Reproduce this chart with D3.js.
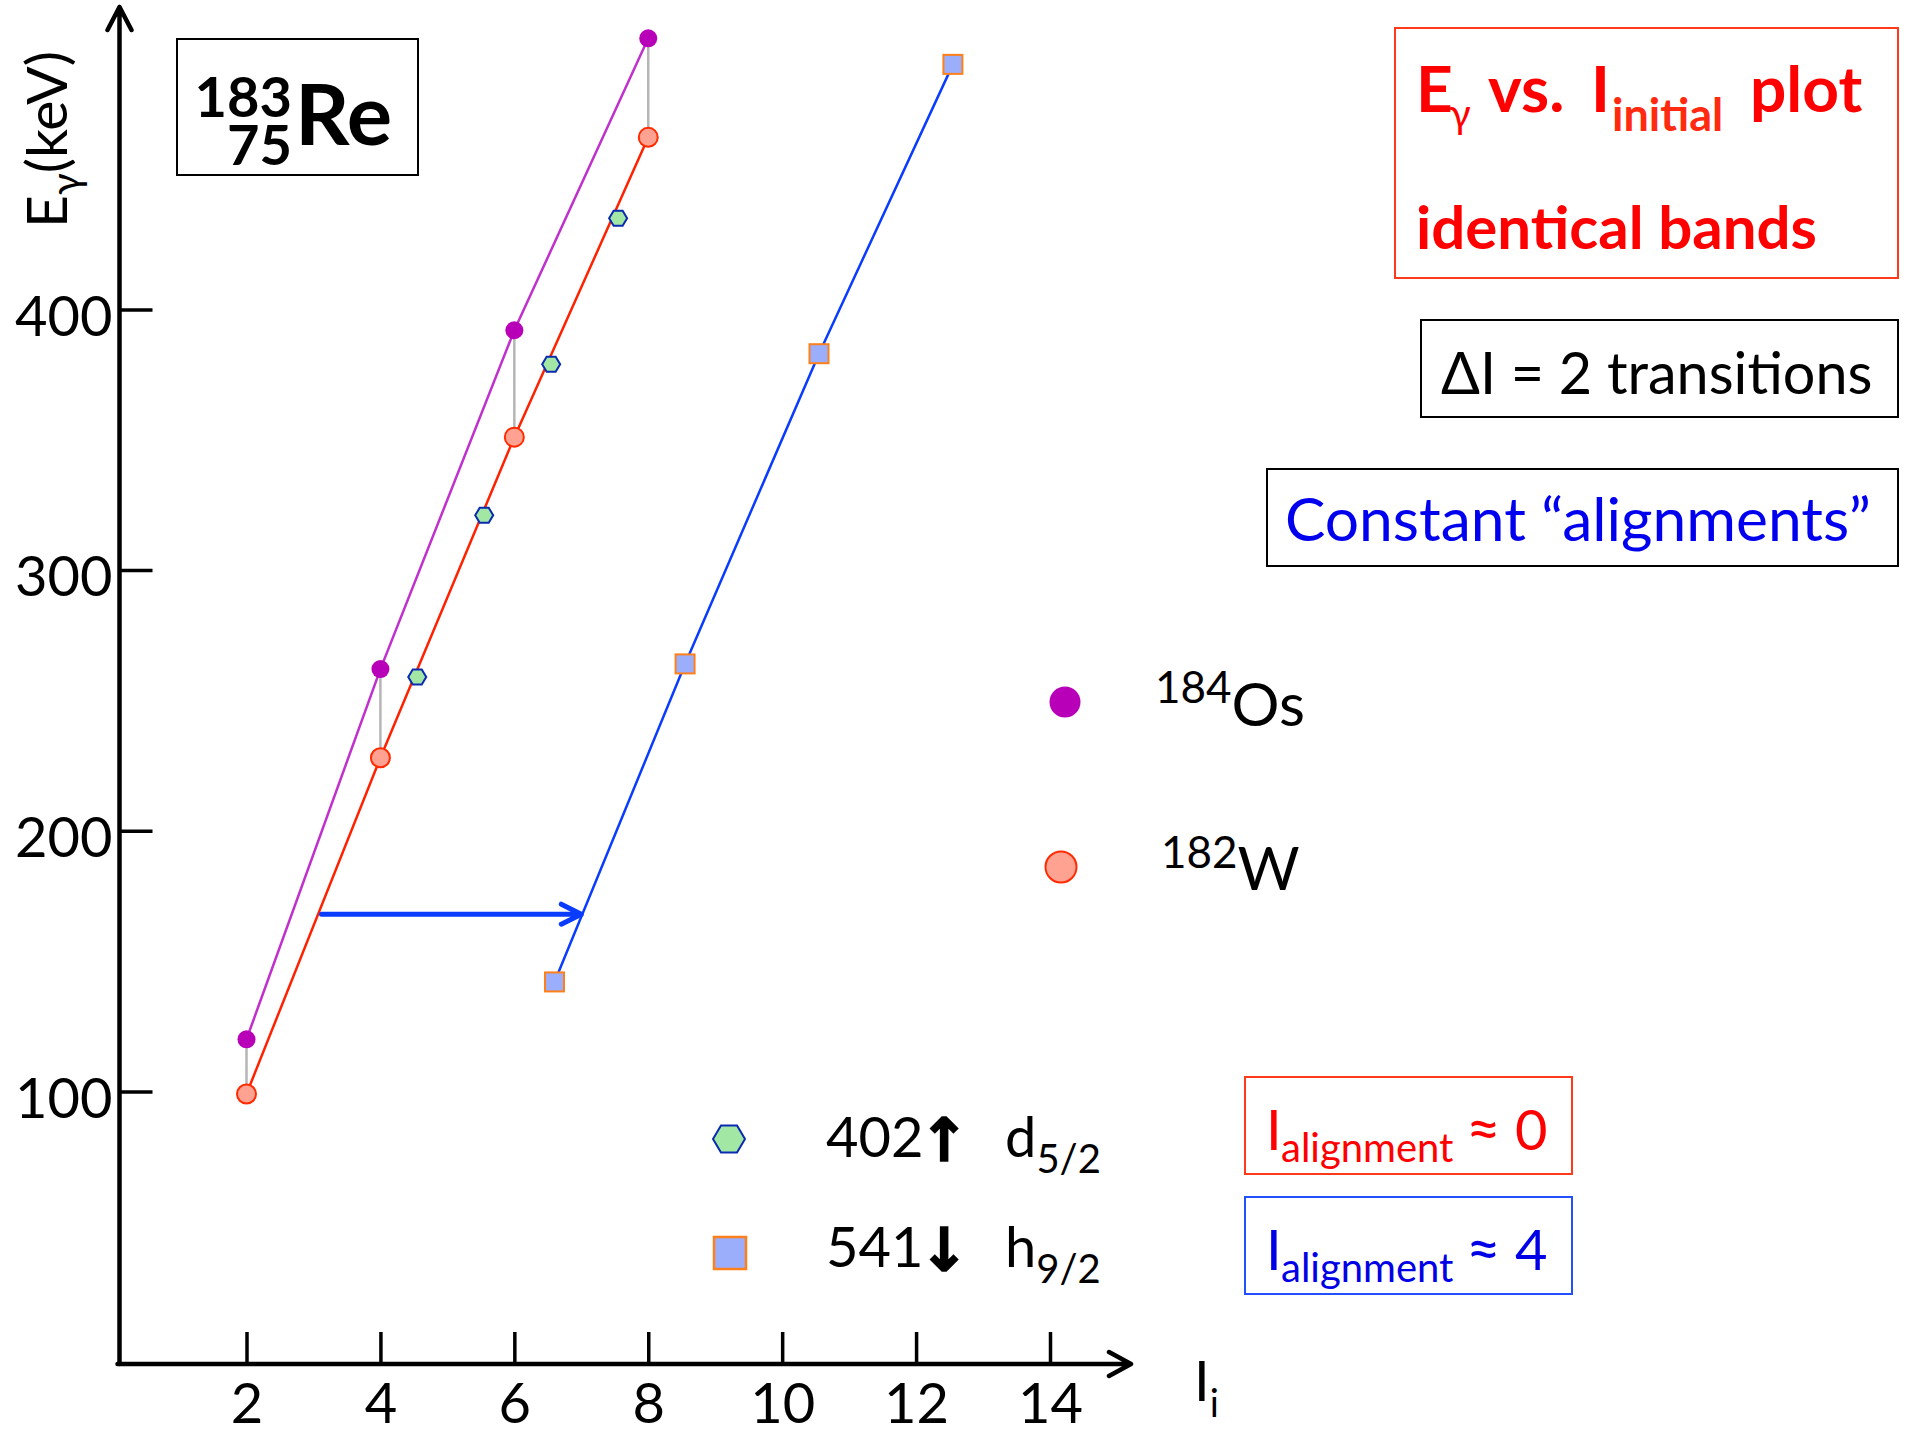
<!DOCTYPE html>
<html>
<head>
<meta charset="utf-8">
<script src="https://cdn.jsdelivr.net/npm/d3@7"></script>
<style>
  body { margin: 0; background: #fff; }
  text { font-family: Lato, "Open Sans", "DejaVu Sans", sans-serif; }
</style>
</head>
<body>
<svg id="chart"></svg>
<script>
var width = 1910;
var height = 1434;

// spins of the even-even neighbours
var spins = [2, 4, 6, 8];
var osEnergy = [120, 262, 392, 504];   // 184Os
var wEnergy = [99, 228, 351, 466];     // 182W

// 183Re bands
var d52Spin = [4.55, 5.55, 6.55, 7.55];
var d52Energy = [259, 321, 379, 435];
var h92Spin = [6.6, 8.55, 10.55, 12.55];
var h92Energy = [142, 264, 383, 494];

// alignment shift arrow (from spin, to spin, at energy)
var shiftSpin = [3.12, 7.0];
var shiftEnergy = 168;

var xTicks = [2, 4, 6, 8, 10, 12, 14];
var yTicks = [100, 200, 300, 400];

var svg = d3.select("#chart").attr("width", width).attr("height", height);

var x = d3.scaleLinear().domain([2, 14]).range([246.5, 1050]);
var y = d3.scaleLinear().domain([100, 400]).range([1091.4, 309.4]);

var axisX = 119.5, axisY = 1364;

// axes
var yAxis = d3.axisLeft(y).tickValues(yTicks).tickSizeInner(-33).tickSizeOuter(0).tickPadding(7);
var gy = svg.append("g").attr("transform", "translate(" + axisX + ",0)").call(yAxis);
gy.select(".domain").remove();
gy.selectAll(".tick line").attr("stroke", "#000").attr("stroke-width", 3.5);
gy.selectAll(".tick text").attr("font-size", 56).attr("fill", "#000").attr("dy", "0.46em")
    .style("font-family", "Lato, sans-serif");

var xAxis = d3.axisBottom(x).tickValues(xTicks).tickSizeInner(-32).tickSizeOuter(0).tickPadding(19);
var gx = svg.append("g").attr("transform", "translate(0," + axisY + ")").call(xAxis);
gx.select(".domain").remove();
gx.selectAll(".tick line").attr("stroke", "#000").attr("stroke-width", 3.5);
gx.selectAll(".tick text").attr("font-size", 56).attr("fill", "#000")
    .style("font-family", "Lato, sans-serif");

// axis lines with open arrow heads
svg.append("path")
    .attr("d", "M" + axisX + "," + axisY + "V7M" + (axisX - 12) + ",30L" + axisX + ",7L" + (axisX + 12) + ",30")
    .attr("fill", "none").attr("stroke", "#000").attr("stroke-width", 4.5)
    .attr("stroke-linecap", "round").attr("stroke-linejoin", "round");
svg.append("path")
    .attr("d", "M" + (axisX - 2) + "," + axisY + "H1131M1109,1352L1131," + axisY + "L1109,1376")
    .attr("fill", "none").attr("stroke", "#000").attr("stroke-width", 4.5)
    .attr("stroke-linecap", "round").attr("stroke-linejoin", "round");

// axis titles
var yl = svg.append("text").attr("transform", "translate(67,228) rotate(-90)").attr("font-size", 57).attr("fill", "#000");
yl.append("tspan").text("E");
yl.append("tspan").attr("font-size", 40).attr("dy", 13).text("γ");
yl.append("tspan").attr("dy", -13).text("(keV)");

var xl = svg.append("text").attr("x", 1194).attr("y", 1401).attr("font-size", 56).attr("fill", "#000");
xl.append("tspan").text("I");
xl.append("tspan").attr("font-size", 38).attr("dy", 16).text("i");

// lines
var line = d3.line().x(function (d) { return x(d[0]); }).y(function (d) { return y(d[1]); });

svg.append("path").datum(d3.zip(spins, osEnergy)).attr("d", line)
    .attr("fill", "none").attr("stroke", "#c030cc").attr("stroke-width", 2.5);
svg.append("path").datum(d3.zip(spins, wEnergy)).attr("d", line)
    .attr("fill", "none").attr("stroke", "#ff2200").attr("stroke-width", 2.5);
svg.append("path").datum(d3.zip(h92Spin, h92Energy)).attr("d", line)
    .attr("fill", "none").attr("stroke", "#0a3cff").attr("stroke-width", 2.5);

// grey connectors Os -> W
svg.append("g").selectAll("line").data(spins).enter().append("line")
    .attr("x1", function (d) { return x(d); })
    .attr("x2", function (d) { return x(d); })
    .attr("y1", function (d, i) { return y(osEnergy[i]); })
    .attr("y2", function (d, i) { return y(wEnergy[i]); })
    .attr("stroke", "#b5b5b5").attr("stroke-width", 2.5);

// alignment shift arrow
var ax1 = x(shiftSpin[0]), ax2 = x(shiftSpin[1]), ay = y(shiftEnergy);
svg.append("path")
    .attr("d", "M" + ax1 + "," + ay + "H" + ax2 + "M" + (ax2 - 20) + "," + (ay - 10) + "L" + ax2 + "," + ay + "L" + (ax2 - 20) + "," + (ay + 10))
    .attr("fill", "none").attr("stroke", "#0a3cff").attr("stroke-width", 5)
    .attr("stroke-linecap", "round").attr("stroke-linejoin", "round");

function hexPath(w, h) {
    return "M" + (-w / 2) + ",0L" + (-w / 4) + "," + (-h / 2) + "L" + (w / 4) + "," + (-h / 2) +
        "L" + (w / 2) + ",0L" + (w / 4) + "," + (h / 2) + "L" + (-w / 4) + "," + (h / 2) + "Z";
}

// markers
svg.append("g").selectAll("circle").data(spins).enter().append("circle")
    .attr("cx", function (d) { return x(d); })
    .attr("cy", function (d, i) { return y(wEnergy[i]); })
    .attr("r", 9.5).attr("fill", "#ffa291").attr("stroke", "#ff2a00").attr("stroke-width", 2);

svg.append("g").selectAll("circle").data(spins).enter().append("circle")
    .attr("cx", function (d) { return x(d); })
    .attr("cy", function (d, i) { return y(osEnergy[i]); })
    .attr("r", 9).attr("fill", "#b900b9");

svg.append("g").selectAll("path").data(d52Spin).enter().append("path")
    .attr("transform", function (d, i) { return "translate(" + x(d) + "," + y(d52Energy[i]) + ")"; })
    .attr("d", hexPath(18, 15))
    .attr("fill", "#a2e8a4").attr("stroke", "#0a2ab0").attr("stroke-width", 2);

svg.append("g").selectAll("rect").data(h92Spin).enter().append("rect")
    .attr("x", function (d) { return x(d) - 9.5; })
    .attr("y", function (d, i) { return y(h92Energy[i]) - 9.5; })
    .attr("width", 19).attr("height", 19)
    .attr("fill", "#9aaefc").attr("stroke", "#ff7f1a").attr("stroke-width", 2);

// nuclide box
svg.append("rect").attr("x", 177).attr("y", 39).attr("width", 241).attr("height", 136)
    .attr("fill", "none").attr("stroke", "#000").attr("stroke-width", 2);
var nuc = svg.append("text").attr("font-weight", "bold").attr("fill", "#000");
nuc.append("tspan").attr("x", 292).attr("y", 117).attr("text-anchor", "end").attr("font-size", 56).text("183");
nuc.append("tspan").attr("x", 292).attr("y", 165).attr("text-anchor", "end").attr("font-size", 56).text("75");
nuc.append("tspan").attr("x", 295).attr("y", 145).attr("font-size", 85).text("Re");

// title box
svg.append("rect").attr("x", 1395).attr("y", 28).attr("width", 503).attr("height", 250)
    .attr("fill", "none").attr("stroke", "#ff3a1a").attr("stroke-width", 2);
var t1 = svg.append("text").attr("y", 112).attr("fill", "#ff0000").attr("font-weight", "bold").attr("font-size", 64);
t1.append("tspan").attr("x", 1416).text("E");
t1.append("tspan").attr("x", 1449).attr("dy", 16).attr("font-size", 40).attr("font-weight", "normal").text("γ");
t1.append("tspan").attr("x", 1488).attr("dy", -16).text("vs.");
t1.append("tspan").attr("x", 1591).text("I");
t1.append("tspan").attr("x", 1612).attr("dy", 19).attr("font-size", 45).attr("fill", "#ff2a10").text("initial");
t1.append("tspan").attr("x", 1750).attr("dy", -19).text("plot");
svg.append("text").attr("x", 1416).attr("y", 249).attr("fill", "#ff0000").attr("font-weight", "bold")
    .attr("font-size", 60).text("identical bands");

// delta I box
svg.append("rect").attr("x", 1421).attr("y", 320).attr("width", 477).attr("height", 97)
    .attr("fill", "none").attr("stroke", "#000").attr("stroke-width", 2);
svg.append("text").attr("x", 1441).attr("y", 394).attr("font-size", 57.5).attr("fill", "#000")
    .text("ΔI = 2 transitions");

// constant alignments box
svg.append("rect").attr("x", 1267).attr("y", 469).attr("width", 631).attr("height", 97)
    .attr("fill", "none").attr("stroke", "#000").attr("stroke-width", 2);
svg.append("text").attr("x", 1285).attr("y", 541).attr("font-size", 60.5).attr("fill", "#0000ee")
    .text("Constant “alignments”");

// even-even legend
svg.append("circle").attr("cx", 1065).attr("cy", 702).attr("r", 15.5).attr("fill", "#b900b9");
svg.append("circle").attr("cx", 1061).attr("cy", 867).attr("r", 15.5)
    .attr("fill", "#ffa291").attr("stroke", "#ff2a00").attr("stroke-width", 2);
var os = svg.append("text").attr("y", 726).attr("font-size", 60).attr("fill", "#000");
os.append("tspan").attr("x", 1155).attr("dy", -23).attr("font-size", 44).text("184");
os.append("tspan").attr("dy", 23).text("Os");
var w = svg.append("text").attr("y", 890).attr("font-size", 60).attr("fill", "#000");
w.append("tspan").attr("x", 1161).attr("dy", -22).attr("font-size", 44).text("182");
w.append("tspan").attr("dy", 22).text("W");

// 183Re legend
svg.append("path").attr("transform", "translate(729,1139)").attr("d", hexPath(32, 27))
    .attr("fill", "#a2e8a4").attr("stroke", "#0a2ab0").attr("stroke-width", 2);
svg.append("rect").attr("x", 714).attr("y", 1237).attr("width", 32).attr("height", 32)
    .attr("fill", "#9aaefc").attr("stroke", "#ff7f1a").attr("stroke-width", 2.5);

var bandRows = [
    { y: 1157, num: "402", arrow: "↑", l: "d", j: "5/2" },
    { y: 1267, num: "541", arrow: "↓", l: "h", j: "9/2" }
];
bandRows.forEach(function (r) {
    svg.append("text").attr("x", 826).attr("y", r.y).attr("font-size", 56).attr("fill", "#000").text(r.num);
    svg.append("text").attr("x", 944).attr("y", r.y + 4).attr("text-anchor", "middle")
        .attr("font-size", 60).attr("font-weight", "bold").style("font-family", "'DejaVu Sans', sans-serif")
        .attr("fill", "#000").attr("stroke", "#000").attr("stroke-width", 1.5).text(r.arrow);
    var t = svg.append("text").attr("y", r.y).attr("font-size", 56).attr("fill", "#000");
    t.append("tspan").attr("x", 1005).text(r.l);
    t.append("tspan").attr("dy", 16).attr("font-size", 40).text(r.j);
});

// alignment boxes
var alignBoxes = [
    { y: 1077, stroke: "#ff3a1a", fill: "#ff0000", value: "0" },
    { y: 1197, stroke: "#2050ff", fill: "#0000e6", value: "4" }
];
alignBoxes.forEach(function (b) {
    svg.append("rect").attr("x", 1245).attr("y", b.y).attr("width", 327).attr("height", 97)
        .attr("fill", "none").attr("stroke", b.stroke).attr("stroke-width", 2);
    var t = svg.append("text").attr("y", b.y + 73).attr("font-size", 56).attr("fill", b.fill);
    t.append("tspan").attr("x", 1266).text("I");
    t.append("tspan").attr("x", 1281).attr("dy", 12).attr("font-size", 40).text("alignment");
    t.append("tspan").attr("x", 1466).attr("dy", -12).attr("font-size", 60).text("≈");
    t.append("tspan").attr("x", 1515).attr("font-size", 56).text(b.value);
});
</script>
</body>
</html>
